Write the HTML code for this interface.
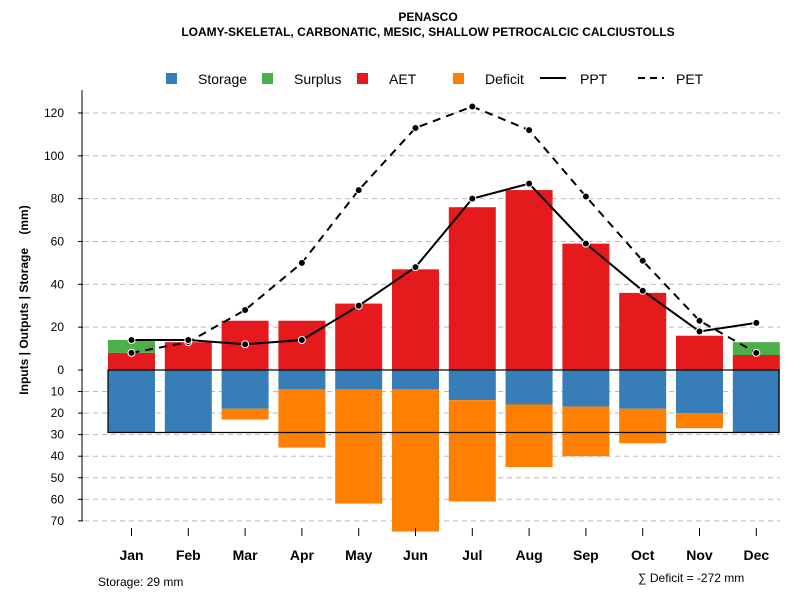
<!DOCTYPE html>
<html><head><meta charset="utf-8"><style>
body{margin:0;background:#fff;font-family:"Liberation Sans",sans-serif}
</style></head><body>
<svg id="c" width="800" height="600" xmlns="http://www.w3.org/2000/svg" font-family="Liberation Sans, sans-serif">
<text x="428" y="21" text-anchor="middle" font-size="12" font-weight="bold">PENASCO</text>
<text x="428" y="36" text-anchor="middle" font-size="12" font-weight="bold">LOAMY-SKELETAL, CARBONATIC, MESIC, SHALLOW PETROCALCIC CALCIUSTOLLS</text>
<g id="legend" font-size="14">
<rect x="166" y="73" width="11" height="11" fill="#377eb8"/><text x="198" y="84">Storage</text>
<rect x="262" y="73" width="11" height="11" fill="#4daf4a"/><text x="294" y="84">Surplus</text>
<rect x="357" y="73" width="11" height="11" fill="#e41a1c"/><text x="389" y="84">AET</text>
<rect x="453" y="73" width="11" height="11" fill="#ff7f00"/><text x="485" y="84">Deficit</text>
<line x1="540" y1="78" x2="566" y2="78" stroke="#000" stroke-width="2"/><text x="580" y="84">PPT</text>
<line x1="638" y1="78" x2="664" y2="78" stroke="#000" stroke-width="2" stroke-dasharray="7,5"/><text x="676" y="84">PET</text>
</g>
<g id="grid"></g><g id="bars"></g><g id="lines"></g><g id="axes"></g>
<text transform="translate(28,300) rotate(-90)" text-anchor="middle" font-size="12" font-weight="bold">Inputs | Outputs | Storage&#160;&#160;&#160;&#160;(mm)</text>
<text x="98" y="586" font-size="12">Storage: 29 mm</text>
<text x="638" y="582" font-size="12">∑ Deficit = -272 mm</text>
</svg>
<script>
const months=["Jan","Feb","Mar","Apr","May","Jun","Jul","Aug","Sep","Oct","Nov","Dec"];
const storage=[29,29,18,9,9,9,14,16,17,18,20,29];
const deficit=[0,0,5,27,53,66,47,29,23,16,7,0];
const aet=[8,13,23,23,31,47,76,84,59,36,16,7];
const surplus=[6,0,0,0,0,0,0,0,0,0,0,6];
const ppt=[14,14,12,14,30,48,80,87,59,37,18,22];
const pet=[8,13,28,50,84,113,123,112,81,51,23,8];
const upTicks=[0,20,40,60,80,100,120];
const downTicks=[10,20,30,40,50,60,70];
const soilStorage=29;
const NS="http://www.w3.org/2000/svg";
const y0=370,ku=2.142,kd=2.155;
const yUp=v=>y0-v*ku, yDn=v=>y0+v*kd, xC=i=>131.5+i*56.8;
function mk(p,t,a){const e=document.createElementNS(NS,t);for(const k in a)e.setAttribute(k,a[k]);document.getElementById(p).appendChild(e);return e;}
upTicks.forEach(v=>{if(v>0){const g=mk('grid','line',{x1:84,x2:780,y1:yUp(v),y2:yUp(v),stroke:'#bbb','stroke-dasharray':'5,4'});

}
const t=mk('axes','text',{x:64,y:yUp(v)+4,'text-anchor':'end','font-size':12});t.textContent=v;


mk('axes','line',{x1:78,x2:83,y1:yUp(v),y2:yUp(v),stroke:'#000'});});
downTicks.forEach(v=>{const g=mk('grid','line',{x1:84,x2:780,y1:yDn(v),y2:yDn(v),stroke:'#bbb','stroke-dasharray':'5,4'});


const t=mk('axes','text',{x:64,y:yDn(v)+4,'text-anchor':'end','font-size':12});t.textContent=v;


mk('axes','line',{x1:78,x2:83,y1:yDn(v),y2:yDn(v),stroke:'#000'});});
mk('axes','line',{x1:82,x2:82,y1:90,y2:yDn(70),stroke:'#000'});
months.forEach((m,i)=>{const x=xC(i)-23.5,w=47;
let r=mk('bars','rect',{x,y:yUp(aet[i]),width:w,height:aet[i]*ku,fill:'#e41a1c'});


if(surplus[i]>0){r=mk('bars','rect',{x,y:yUp(aet[i]+surplus[i]),width:w,height:surplus[i]*ku,fill:'#4daf4a'});

}
r=mk('bars','rect',{x,y:y0,width:w,height:storage[i]*kd,fill:'#377eb8'});


if(deficit[i]>0){r=mk('bars','rect',{x,y:yDn(storage[i]),width:w,height:deficit[i]*kd,fill:'#ff7f00'});

}
mk('axes','line',{x1:xC(i),x2:xC(i),y1:528,y2:536,stroke:'#000'});
const t=mk('axes','text',{x:xC(i),y:560,'text-anchor':'middle','font-size':14,'font-weight':'bold'});t.textContent=m;

});
const box=mk('bars','rect',{x:108,y:y0,width:671,height:soilStorage*kd,fill:'none',stroke:'#000','stroke-width':1.2});


function series(arr,name,dash){const pts=arr.map((v,i)=>xC(i)+','+yUp(v)).join(' ');
const p=mk('lines','polyline',{points:pts,fill:'none',stroke:'#000','stroke-width':2,'stroke-dasharray':dash});


arr.forEach((v,i)=>{const c=mk('lines','circle',{cx:xC(i),cy:yUp(v),r:3.5,fill:'#000',stroke:'#fff','stroke-width':1});

});}
series(pet,'pet','8,6');
series(ppt,'ppt','none');
</script>
</body></html>
